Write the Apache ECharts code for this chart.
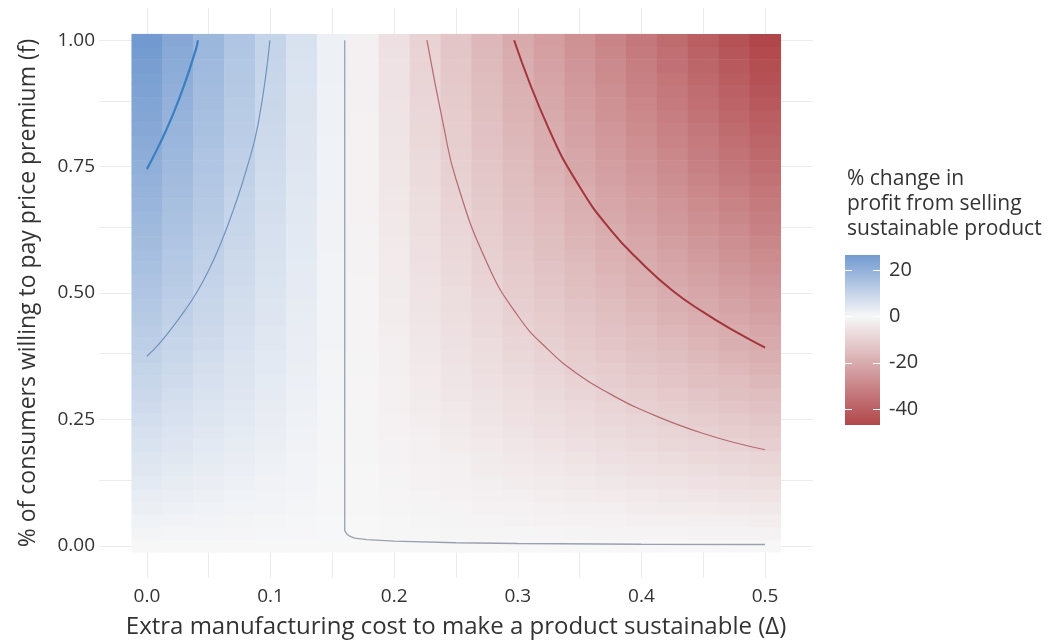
<!DOCTYPE html>
<html><head><meta charset="utf-8">
<script src="https://cdn.jsdelivr.net/npm/echarts@6/dist/echarts.min.js"></script>
<style>html,body{margin:0;padding:0;background:#fff}#c{width:1048px;height:644px}</style>
</head><body><div id="c"></div>
<script>
// ---- data ----
const deltaValues = [0,0.025,0.05,0.075,0.1,0.125,0.15,0.175,0.2,0.225,0.25,0.275,0.3,0.325,0.35,0.375,0.4,0.425,0.45,0.475,0.5];
const fValues = [0,0.025,0.05,0.075,0.1,0.125,0.15,0.175,0.2,0.225,0.25,0.275,0.3,0.325,0.35,0.375,0.4,0.425,0.45,0.475,0.5,0.525,0.55,0.575,0.6,0.625,0.65,0.675,0.7,0.725,0.75,0.775,0.8,0.825,0.85,0.875,0.9,0.925,0.95,0.975,1];
// % change in profit, one row per f value (bottom f=0 to top f=1), one column per delta value
const zRows = [
[0,0,0,0,0,0,0,0,0,0,0,0,0,0,0,0,0,0,0,0,0],
[0.8,0.6,0.5,0.4,0.3,0.2,0.1,-0.1,-0.2,-0.3,-0.4,-0.5,-0.6,-0.7,-0.8,-0.9,-1.0,-1.1,-1.2,-1.3,-1.3],
[1.5,1.3,1.0,0.8,0.6,0.3,0.1,-0.1,-0.3,-0.6,-0.8,-1.0,-1.2,-1.4,-1.5,-1.7,-1.9,-2.1,-2.3,-2.5,-2.7],
[2.3,1.9,1.6,1.2,0.9,0.5,0.2,-0.2,-0.5,-0.8,-1.1,-1.4,-1.7,-2.0,-2.3,-2.6,-2.9,-3.2,-3.4,-3.7,-4.0],
[3.0,2.5,2.1,1.6,1.1,0.7,0.2,-0.2,-0.7,-1.1,-1.5,-1.9,-2.3,-2.7,-3.1,-3.4,-3.8,-4.2,-4.6,-5.0,-5.3],
[3.7,3.2,2.6,2.0,1.4,0.9,0.3,-0.3,-0.8,-1.4,-1.9,-2.4,-2.9,-3.3,-3.8,-4.3,-4.8,-5.2,-5.7,-6.2,-6.6],
[4.5,3.8,3.1,2.4,1.7,1.0,0.3,-0.3,-1.0,-1.7,-2.2,-2.9,-3.4,-4.0,-4.6,-5.1,-5.7,-6.2,-6.8,-7.4,-7.9],
[5.2,4.4,3.6,2.8,2.0,1.2,0.4,-0.4,-1.2,-1.9,-2.6,-3.3,-4.0,-4.6,-5.3,-6.0,-6.6,-7.3,-7.9,-8.6,-9.2],
[5.9,5.0,4.1,3.2,2.3,1.4,0.4,-0.4,-1.3,-2.2,-3.0,-3.8,-4.6,-5.3,-6.1,-6.8,-7.5,-8.3,-9.0,-9.8,-10.5],
[6.6,5.6,4.6,3.6,2.5,1.5,0.5,-0.5,-1.5,-2.5,-3.3,-4.2,-5.1,-5.9,-6.8,-7.6,-8.4,-9.3,-10.1,-10.9,-11.8],
[7.3,6.2,5.1,3.9,2.8,1.7,0.6,-0.6,-1.6,-2.7,-3.7,-4.7,-5.7,-6.6,-7.5,-8.4,-9.3,-10.3,-11.2,-12.1,-13.0],
[8.0,6.8,5.6,4.3,3.1,1.9,0.6,-0.6,-1.8,-3.0,-4.0,-5.1,-6.2,-7.2,-8.2,-9.2,-10.2,-11.2,-12.3,-13.3,-14.3],
[8.7,7.4,6.0,4.7,3.3,2.0,0.7,-0.7,-1.9,-3.2,-4.4,-5.6,-6.7,-7.8,-8.9,-10.0,-11.1,-12.2,-13.3,-14.4,-15.5],
[9.4,8.0,6.5,5.1,3.6,2.2,0.7,-0.7,-2.1,-3.5,-4.7,-6.0,-7.3,-8.4,-9.7,-10.8,-12.0,-13.2,-14.4,-15.6,-16.8],
[10.1,8.6,7.0,5.4,3.9,2.3,0.8,-0.8,-2.3,-3.7,-5.1,-6.5,-7.8,-9.1,-10.4,-11.6,-12.9,-14.1,-15.4,-16.7,-18.0],
[10.8,9.1,7.5,5.8,4.1,2.5,0.8,-0.8,-2.4,-4.0,-5.4,-6.9,-8.3,-9.7,-11.1,-12.4,-13.8,-15.1,-16.5,-17.8,-19.2],
[11.5,9.7,7.9,6.2,4.4,2.6,0.9,-0.9,-2.6,-4.3,-5.8,-7.3,-8.9,-10.3,-11.8,-13.2,-14.6,-16.1,-17.5,-19.0,-20.4],
[12.2,10.3,8.4,6.5,4.6,2.8,0.9,-0.9,-2.7,-4.5,-6.1,-7.8,-9.4,-10.9,-12.5,-14.0,-15.5,-17.0,-18.6,-20.1,-21.6],
[12.8,10.9,8.9,6.9,4.9,3.0,1.0,-1.0,-2.9,-4.8,-6.4,-8.2,-9.9,-11.5,-13.1,-14.7,-16.3,-17.9,-19.6,-21.2,-22.8],
[13.5,11.4,9.3,7.2,5.2,3.1,1.0,-1.0,-3.0,-5.0,-6.8,-8.6,-10.4,-12.1,-13.8,-15.5,-17.2,-18.9,-20.6,-22.3,-24.0],
[14.2,12.0,9.8,7.6,5.4,3.3,1.1,-1.1,-3.2,-5.2,-7.1,-9.0,-10.9,-12.7,-14.5,-16.3,-18.0,-19.8,-21.6,-23.4,-25.1],
[14.8,12.5,10.2,7.9,5.7,3.4,1.1,-1.1,-3.3,-5.5,-7.4,-9.5,-11.4,-13.3,-15.2,-17.0,-18.9,-20.7,-22.6,-24.5,-26.3],
[15.5,13.1,10.7,8.3,5.9,3.6,1.2,-1.2,-3.4,-5.7,-7.8,-9.9,-11.9,-13.8,-15.8,-17.8,-19.7,-21.6,-23.6,-25.5,-27.5],
[16.1,13.6,11.1,8.6,6.1,3.7,1.2,-1.2,-3.6,-6.0,-8.1,-10.3,-12.4,-14.4,-16.5,-18.5,-20.5,-22.5,-24.6,-26.6,-28.6],
[16.8,14.2,11.6,9.0,6.4,3.9,1.3,-1.3,-3.7,-6.2,-8.4,-10.7,-12.9,-15.0,-17.2,-19.2,-21.3,-23.4,-25.6,-27.7,-29.8],
[17.4,14.7,12.0,9.3,6.6,4.0,1.3,-1.3,-3.9,-6.4,-8.7,-11.1,-13.4,-15.6,-17.8,-20.0,-22.1,-24.3,-26.5,-28.7,-30.9],
[18.0,15.3,12.5,9.7,6.9,4.2,1.4,-1.4,-4.0,-6.7,-9.1,-11.5,-13.9,-16.1,-18.5,-20.7,-23.0,-25.2,-27.5,-29.8,-32.0],
[18.7,15.8,12.9,10.0,7.1,4.3,1.4,-1.4,-4.2,-6.9,-9.4,-11.9,-14.4,-16.7,-19.1,-21.4,-23.8,-26.1,-28.5,-30.8,-33.1],
[19.3,16.3,13.3,10.3,7.4,4.4,1.5,-1.5,-4.3,-7.1,-9.7,-12.3,-14.9,-17.3,-19.7,-22.1,-24.6,-27.0,-29.4,-31.8,-34.2],
[19.9,16.8,13.8,10.7,7.6,4.6,1.5,-1.5,-4.4,-7.4,-10.0,-12.7,-15.3,-17.8,-20.4,-22.9,-25.3,-27.8,-30.4,-32.9,-35.3],
[20.5,17.4,14.2,11.0,7.8,4.7,1.6,-1.6,-4.6,-7.6,-10.3,-13.1,-15.8,-18.4,-21.0,-23.6,-26.1,-28.7,-31.3,-33.9,-36.4],
[21.2,17.9,14.6,11.3,8.1,4.9,1.6,-1.6,-4.7,-7.8,-10.6,-13.5,-16.3,-18.9,-21.6,-24.3,-26.9,-29.5,-32.3,-34.9,-37.5],
[21.8,18.4,15.0,11.7,8.3,5.0,1.6,-1.6,-4.8,-8.0,-10.9,-13.9,-16.8,-19.5,-22.3,-25.0,-27.7,-30.4,-33.2,-35.9,-38.6],
[22.4,18.9,15.5,12.0,8.5,5.2,1.7,-1.7,-5.0,-8.3,-11.2,-14.3,-17.2,-20.0,-22.9,-25.7,-28.5,-31.2,-34.1,-36.9,-39.7],
[23.0,19.4,15.9,12.3,8.8,5.3,1.7,-1.7,-5.1,-8.5,-11.5,-14.7,-17.7,-20.5,-23.5,-26.4,-29.2,-32.1,-35.0,-37.9,-40.7],
[23.6,19.9,16.3,12.6,9.0,5.4,1.8,-1.8,-5.2,-8.7,-11.8,-15.0,-18.1,-21.1,-24.1,-27.0,-30.0,-32.9,-35.9,-38.9,-41.8],
[24.2,20.4,16.7,12.9,9.2,5.6,1.8,-1.8,-5.4,-8.9,-12.1,-15.4,-18.6,-21.6,-24.7,-27.7,-30.7,-33.7,-36.8,-39.9,-42.9],
[24.8,20.9,17.1,13.3,9.4,5.7,1.9,-1.9,-5.5,-9.2,-12.4,-15.8,-19.1,-22.1,-25.3,-28.4,-31.5,-34.6,-37.7,-40.8,-43.9],
[25.3,21.4,17.5,13.6,9.7,5.8,1.9,-1.9,-5.6,-9.4,-12.7,-16.2,-19.5,-22.7,-25.9,-29.1,-32.2,-35.4,-38.6,-41.8,-44.9],
[25.9,21.9,17.9,13.9,9.9,6.0,2.0,-2.0,-5.8,-9.6,-13.0,-16.5,-20.0,-23.2,-26.5,-29.7,-33.0,-36.2,-39.5,-42.7,-46.0],
[26.5,22.4,18.3,14.2,10.1,6.1,2.0,-2.0,-5.9,-9.8,-13.3,-16.9,-20.4,-23.7,-27.1,-30.4,-33.7,-37.0,-40.4,-43.7,-47.0]
];
// contour lines: [delta, f]
const contourP20 = [[0,0.745],[0.01,0.793],[0.02,0.847],[0.03,0.91],[0.04,0.985],[0.0412,1.0]];
const contourP10 = [[0,0.375],[0.01,0.4],[0.02,0.43],[0.03,0.463],[0.04,0.5],[0.05,0.545],[0.06,0.6],[0.07,0.665],[0.08,0.74],[0.09,0.835],[0.0995,1.0]];
const contourZero = [[0.160,1.0],[0.160,0.03],[0.1615,0.024],[0.164,0.019],[0.168,0.015],[0.178,0.012],[0.2,0.009],[0.25,0.006],[0.3,0.0045],[0.4,0.003],[0.5,0.0025]];
const contourM10 = [[0.2265,1.0],[0.24,0.83],[0.25,0.725],[0.275,0.56],[0.3,0.455],[0.325,0.387],[0.35,0.337],[0.375,0.3],[0.4,0.269],[0.45,0.222],[0.5,0.19]];
const contourM20 = [[0.297,1.0],[0.325,0.825],[0.35,0.71],[0.375,0.625],[0.4,0.56],[0.425,0.505],[0.45,0.462],[0.475,0.425],[0.5,0.392]];
const xTickValues = [0,0.1,0.2,0.3,0.4,0.5];
const yTickValues = [0,0.25,0.5,0.75,1];
const xGridValues = [0,0.05,0.1,0.15,0.2,0.25,0.3,0.35,0.4,0.45,0.5];
const yGridValues = [0,0.125,0.25,0.375,0.5,0.625,0.75,0.875,1];
const legendTicks = [20,0,-20,-40];
const zMin = -47, zMax = 26.5;

// ---- styling helpers ----
const FONT = '"Open Sans", "Noto Sans", sans-serif';
const TXT = '#333333';
const HIGH = [114,154,208], MID = [247,247,248], LOW = [176,70,74];
function colorOf(v){
  let c;
  if (v >= 0) { const t = Math.min(1, v / zMax); c = MID.map((m,i)=>Math.round(m + (HIGH[i]-m)*t)); }
  else { const t = Math.min(1, v / zMin); c = MID.map((m,i)=>Math.round(m + (LOW[i]-m)*t)); }
  return 'rgb(' + c.join(',') + ')';
}
const NSTOP = 148;
const colorList = [];
for (let k = 0; k < NSTOP; k++) colorList.push(colorOf(zMin + (zMax - zMin) * k / (NSTOP - 1)));

const cells = [];
fValues.forEach((f, j) => deltaValues.forEach((d, i) => cells.push([d, f, zRows[j][i]])));
const halfW = (deltaValues[1] - deltaValues[0]) / 2;
const halfH = (fValues[1] - fValues[0]) / 2;

// legend geometry
const LG = {x: 845, y: 255, w: 35, h: 170};
const lgY = v => LG.y + (zMax - v) / (zMax - zMin) * LG.h;
const legendGraphics = [
  {type:'text', left: 847, top: 167, style:{text:'% change in\nprofit from selling\nsustainable product', fill: TXT, fontSize: 21, fontFamily: FONT, lineHeight: 25}},
  {type:'rect', shape:{x: LG.x, y: LG.y, width: LG.w, height: LG.h},
   style:{fill: new echarts.graphic.LinearGradient(0,0,0,1, colorList.slice().reverse().map((c,k,a)=>({offset:k/(a.length-1), color:c})))}}
];
legendTicks.forEach(v => {
  const y = Math.round(lgY(v)) + 0.5;
  legendGraphics.push({type:'line', shape:{x1:LG.x, y1:y, x2:LG.x+7, y2:y}, style:{stroke:'#ffffff', lineWidth:1}});
  legendGraphics.push({type:'line', shape:{x1:LG.x+LG.w-7, y1:y, x2:LG.x+LG.w, y2:y}, style:{stroke:'#ffffff', lineWidth:1}});
  legendGraphics.push({type:'text', x: LG.x + LG.w + 9, y: lgY(v), style:{text:String(v), fill:TXT, fontSize:20, fontFamily:FONT, verticalAlign:'middle', textVerticalAlign:'middle'}});
});

function contourSeries(data, color, width, smooth){
  return {type:'line', data: data, showSymbol:false, symbol:'none', smooth: smooth, silent:true, z: 5,
          lineStyle:{color: color, width: width}, clip: true};
}

const chart = echarts.init(document.getElementById('c'), null, {renderer:'canvas'});
chart.setOption({
  animation: false,
  backgroundColor: '#ffffff',
  textStyle: {fontFamily: FONT},
  grid: {left: 99, right: 235, top: 8, bottom: 65, containLabel: false},
  xAxis: {
    type:'value', min:-0.03875, max:0.53875,
    name:'Extra manufacturing cost to make a product sustainable (\u0394)', nameLocation:'middle', nameGap: 37,
    nameTextStyle:{fontSize:24, color:TXT, fontFamily:FONT},
    axisLine:{show:false}, axisTick:{show:false}, splitLine:{show:false},
    axisLabel:{customValues: xTickValues, formatter: v => v.toFixed(1), fontSize:19, color:TXT, margin:9, fontFamily:FONT}
  },
  yAxis: {
    type:'value', min:-0.06375, max:1.06375,
    name:'% of consumers willing to pay price premium (f)', nameLocation:'middle', nameGap: 59,
    nameTextStyle:{fontSize:23, color:TXT, fontFamily:FONT},
    axisLine:{show:false}, axisTick:{show:false}, splitLine:{show:false},
    axisLabel:{customValues: yTickValues, formatter: v => v.toFixed(2), fontSize:19, color:TXT, margin:4, fontFamily:FONT}
  },
  visualMap: {type:'continuous', show:false, dimension:2, seriesIndex:1, min:zMin, max:zMax, inRange:{color: colorList}},
  series: [
    {type:'line', data:[], silent:true, z:0,
     markLine:{silent:true, z:0, symbol:'none', animation:false, label:{show:false},
               lineStyle:{color:'#ebebeb', width:1, type:'solid'},
               data: xGridValues.map(v=>({xAxis:v})).concat(yGridValues.map(v=>({yAxis:v})))}},
    {type:'custom', data: cells, z:3, silent:true, encode:{x:0, y:1},
     renderItem: function(params, api){
       const x = api.value(0), y = api.value(1);
       const a = api.coord([x - halfW, y + halfH]);
       const b = api.coord([x + halfW, y - halfH]);
       return {type:'rect', shape:{x:a[0], y:a[1], width:b[0]-a[0]+0.5, height:b[1]-a[1]+0.5}, style:{fill: api.visual('color')}};
     }},
    contourSeries(contourP20, '#3a7fc1', 2.2, true),
    contourSeries(contourP10, '#6f93bf', 1.2, true),
    contourSeries(contourZero, '#9aa0ad', 1.3, false),
    contourSeries(contourM10, '#b46a6e', 1.2, true),
    contourSeries(contourM20, '#a3363c', 2.0, true)
  ],
  graphic: legendGraphics
});
</script></body></html>
